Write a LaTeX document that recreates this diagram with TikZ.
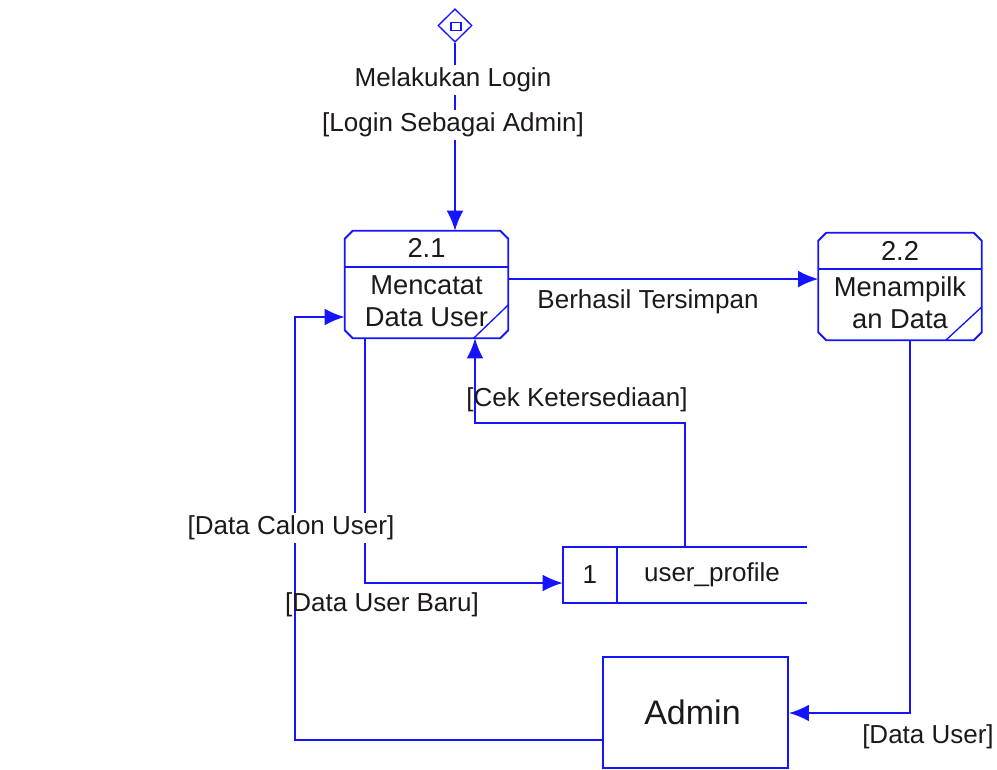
\documentclass[tikz,border=0pt]{standalone}
\usepackage{fontspec}
\setmainfont{Liberation Sans}
\usetikzlibrary{shapes.geometric,arrows.meta,calc}
\definecolor{dfdblue}{RGB}{20,20,255}
\definecolor{txtcol}{RGB}{30,25,25}
\begin{document}
\begin{tikzpicture}[x=0.75pt,y=-0.75pt,
  ln/.style={draw=dfdblue, line width=1.4pt},
  flow/.style={ln, -{Latex[length=15pt,width=12.5pt]}},
  txt/.style={font=\fontsize{19.5}{24}\selectfont, text=txtcol, inner sep=1pt},
  ptxt/.style={font=\fontsize{20.5}{24}\selectfont, text=txtcol, inner sep=1pt},
  lbl/.style={txt, fill=white, inner sep=2pt},
  procbox/.style={rectangle, inner sep=0pt, minimum width=122.25pt, minimum height=80.25pt},
]
\useasboundingbox (0,0) rectangle (997,769);

% start symbol
\node[diamond, draw=dfdblue, line width=1pt, minimum width=25.5pt, minimum height=25pt, inner sep=0pt] (start) at (455,25.5) {};
\node[draw=dfdblue, line width=1pt, minimum width=7.5pt, minimum height=6pt, inner sep=0pt] (startmark) at ($(start.center)+(1,1)$) {};

% process 2.1
\node[procbox] (p21) at (426.5,284.5) {};
\draw[ln] ([xshift=6pt]p21.north west) -- ([xshift=-6pt]p21.north east) -- ([yshift=-6pt]p21.north east)
  -- ([yshift=6pt]p21.south east) -- ([xshift=-6pt]p21.south east) -- ([xshift=6pt]p21.south west)
  -- ([yshift=6pt]p21.south west) -- ([yshift=-6pt]p21.north west) -- cycle;
\draw[ln] ([yshift=-27pt]p21.north west) -- ([yshift=-27pt]p21.north east);
\draw[ln, line width=1pt] ([yshift=25pt]p21.south east) -- ([xshift=-26pt]p21.south east);
\node[ptxt] (p21num) at ($(p21.north)+(0,17)$) {2.1};
\node[ptxt, align=center] (p21lbl) at ($(p21.north)+(0,70)$) {Mencatat\\Data User};

% process 2.2
\node[procbox] (p22) at (900,286.5) {};
\draw[ln] ([xshift=6pt]p22.north west) -- ([xshift=-6pt]p22.north east) -- ([yshift=-6pt]p22.north east)
  -- ([yshift=6pt]p22.south east) -- ([xshift=-6pt]p22.south east) -- ([xshift=6pt]p22.south west)
  -- ([yshift=6pt]p22.south west) -- ([yshift=-6pt]p22.north west) -- cycle;
\draw[ln] ([yshift=-27pt]p22.north west) -- ([yshift=-27pt]p22.north east);
\draw[ln, line width=1pt] ([yshift=25pt]p22.south east) -- ([xshift=-27pt]p22.south east);
\node[ptxt] (p22num) at ($(p22.north)+(0,18)$) {2.2};
\node[ptxt, align=center] (p22lbl) at ($(p22.north)+(0,70)$) {Menampilk\\an Data};

% data store
\node[rectangle, inner sep=0pt, minimum width=183pt, minimum height=42pt] (st) at (685,575) {};
\draw[ln] (st.north east) -- (st.north west) -- (st.south west) -- (st.south east);
\draw[ln] ([xshift=40.5pt]st.north west) -- ([xshift=40.5pt]st.south west);
\node[txt] (stnum) at ($(st.west)+(27,0)$) {1};
\node[txt] (stname) at ($(st.center)+(27,0)$) {user\_profile};

% external entity
\node[draw=dfdblue, line width=1.4pt, minimum width=138.75pt, minimum height=83.25pt, inner sep=0pt] (admin) at (695.5,712.5) {};
\node[font=\fontsize{25.5}{30}\selectfont, text=txtcol, inner sep=0pt] (admintxt) at ($(admin.center)+(-3,0)$) {Admin};

% connectors
\draw[flow] (start.south) -- (start.south |- p21.north);
\node[lbl] (l1) at (453,80) {Melakukan Login};
\node[lbl] (l2) at (453,125) {[Login Sebagai Admin]};

\draw[flow] ([yshift=4.1pt]p21.east) -- ([yshift=4.1pt]p21.east -| p22.west);
\node[txt] (l3) at (648,302) {Berhasil Tersimpan};

\coordinate (c1) at (475,423);
\draw[flow] (st.north) |- (c1) -- (c1 |- p21.south);
\node[txt] (l4) at (577,400) {[Cek Ketersediaan]};

\coordinate (c2) at (365,583);
\draw[flow] (c2 |- p21.south) -- (c2) -- (c2 -| st.west);

\coordinate (c3) at (295,740);
\coordinate (c4) at (295,317);
\draw[flow] (c3 -| admin.west) -- (c3) -- (c4) -- (c4 -| p21.west);

\coordinate (c5) at (910,713);
\draw[flow] (c5 |- p22.south) -- (c5) -- (c5 -| admin.east);
\node[txt] (l7) at (928,737) {[Data User]};

\node[lbl] (l5) at (291,528) {[Data Calon User]};
\node[txt] (l6) at (382,605) {[Data User Baru]};
\end{tikzpicture}
\end{document}
